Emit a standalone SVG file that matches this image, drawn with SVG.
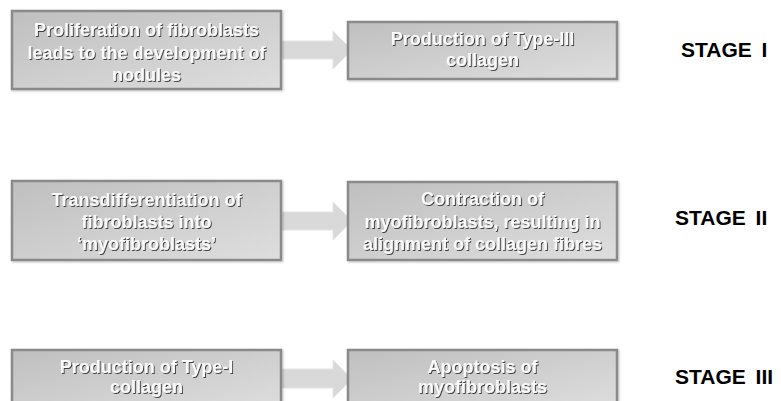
<svg xmlns="http://www.w3.org/2000/svg" width="781" height="401" viewBox="0 0 781 401">
<defs>
<linearGradient id="boxg" x1="0" y1="0" x2="1" y2="1">
<stop offset="0" stop-color="#bfbfbf"/>
<stop offset="1" stop-color="#dedede"/>
</linearGradient>
<filter id="ts" x="-10%" y="-30%" width="120%" height="160%">
<feDropShadow dx="1" dy="1" stdDeviation="0.7" flood-color="#3a3a3a" flood-opacity="0.95"/>
</filter>
<filter id="bs" x="-5%" y="-10%" width="110%" height="120%">
<feDropShadow dx="1" dy="1" stdDeviation="1" flood-color="#000" flood-opacity="0.25"/>
</filter>
</defs>
<style>
.box{fill:url(#boxg);stroke:#8a8a8a;stroke-width:2.5;filter:url(#bs)}
.arr{fill:#d9d9d9;stroke:#e4e4e4;stroke-width:1}
.t{font-family:"Liberation Sans",Arial,sans-serif;font-weight:bold;font-size:18px;fill:#fafafa;text-anchor:middle;filter:url(#ts)}
.st{font-family:"Liberation Sans",Arial,sans-serif;font-weight:bold;font-size:21px;fill:#000;word-spacing:4px}
</style>
<rect width="781" height="401" fill="#fff"/>
<g id="connectors">
<path class="arr" d="M282,41 H333 V31 L352,50 L333,69 V59 H282 Z"/>
<path class="arr" d="M282,212 H333 V202 L352,221 L333,240 V230 H282 Z"/>
<path class="arr" d="M282,369 H333 V360 L352,379 L333,398 V388 H282 Z"/>
</g>
<g id="n1">
<rect class="box" x="12" y="11" width="269" height="78"/>
<text class="t" x="146.5" y="36">Proliferation of fibroblasts</text>
<text class="t" x="146.5" y="59">leads to the development of</text>
<text class="t" x="146.5" y="81">nodules</text>
</g>
<g id="n2">
<rect class="box" x="348" y="22" width="269" height="57"/>
<text class="t" x="482.5" y="45">Production of Type-III</text>
<text class="t" x="482.5" y="66">collagen</text>
</g>
<g id="n3">
<rect class="box" x="12" y="181" width="269" height="79"/>
<text class="t" x="146.5" y="206">Transdifferentiation of</text>
<text class="t" x="146.5" y="228">fibroblasts into</text>
<text class="t" x="146.5" y="250">‘myofibroblasts’</text>
</g>
<g id="n4">
<rect class="box" x="348" y="182" width="269" height="78"/>
<text class="t" x="482.5" y="205">Contraction of</text>
<text class="t" x="482.5" y="228">myofibroblasts, resulting in</text>
<text class="t" x="482.5" y="250">alignment of collagen fibres</text>
</g>
<g id="n5">
<rect class="box" x="12" y="350" width="269" height="60"/>
<text class="t" x="146.5" y="373">Production of Type-I</text>
<text class="t" x="146.5" y="393">collagen</text>
</g>
<g id="n6">
<rect class="box" x="348" y="350" width="269" height="60"/>
<text class="t" x="482.5" y="373">Apoptosis of</text>
<text class="t" x="482.5" y="393">myofibroblasts</text>
</g>
<g id="stages">
<text class="st" x="681" y="57">STAGE I</text>
<text class="st" x="675" y="225">STAGE II</text>
<text class="st" x="675" y="384">STAGE III</text>
</g>
</svg>
